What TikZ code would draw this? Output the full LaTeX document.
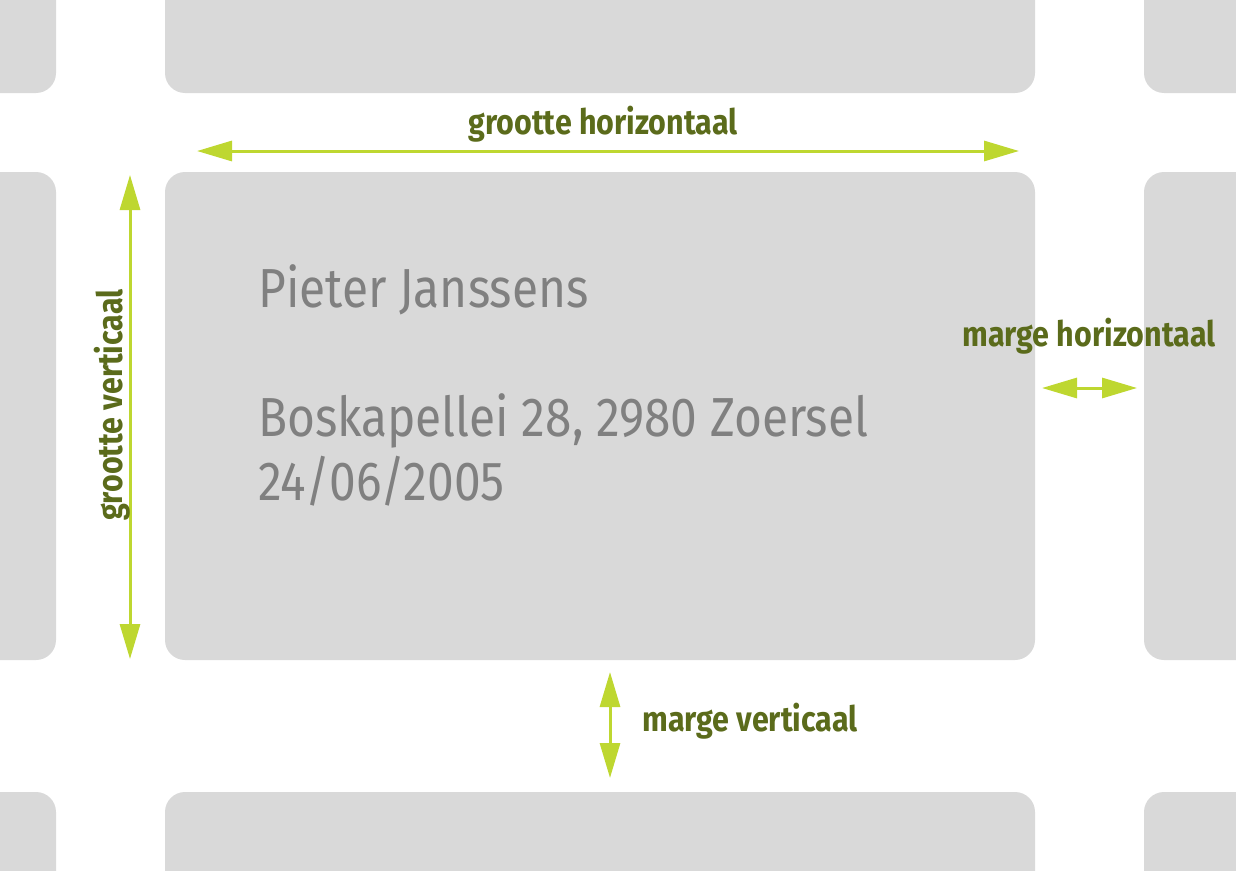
\documentclass[tikz,border=0pt]{standalone}
\usepackage{fontspec}
\setmainfont{Fira Sans}
\newfontfamily\condfont[FakeStretch=0.87]{Fira Sans}
\usetikzlibrary{arrows.meta,positioning}

\definecolor{cardgray}{HTML}{D9D9D9}
\definecolor{textgray}{HTML}{808080}
\definecolor{lime}{HTML}{BED730}
\definecolor{olive}{HTML}{5B6B1B}

\tikzset{
  card/.style={fill=cardgray,rounded corners=20pt,inner sep=0pt},
  addr/.style={anchor=base west,inner sep=0pt,text=textgray,font=\condfont\fontsize{55}{60}\selectfont},
  lbl/.style={text=olive,inner sep=0pt,font=\condfont\bfseries\fontsize{35}{40}\selectfont},
  dim/.style={draw=lime,line width=3pt,{Triangle[length=35pt,width=20pt]}-{Triangle[length=35pt,width=20pt]}},
}

\begin{document}
\begin{tikzpicture} [x=1pt,y=-1pt]

  \useasboundingbox (0,0) rectangle (1236,870);

  % cards
  \foreach \cx/\cw/\col in {-72/256/l, 600/870/m, 1272/256/r}
    \foreach \cy/\ch/\row in {-7/200/t, 416/488/m, 892/200/b}
      \node[card,minimum width=\cw pt,minimum height=\ch pt] (c-\col\row) at (\cx,\cy) {};

  % address
  \node[addr] (name) at (258,307) {Pieter Janssens};
  \node[addr] (street) at (258,436) {Boskapellei 28, 2980 Zoersel};
  \node[addr] (date) at (258,500) {24/06/2005};

  % dimension arrows
  \coordinate (gh-l) at (197,151);
  \coordinate (gh-r) at (1019,151);
  \coordinate (gv-t) at (130,175);
  \coordinate (gv-b) at (130,659);
  \coordinate (mh-l) at (1042,388);
  \coordinate (mh-r) at (1137,388);
  \coordinate (mv-t) at (610,672);
  \coordinate (mv-b) at (610,778);

  \draw[dim] (gh-l) -- (gh-r);
  \draw[dim] (gv-t) -- (gv-b);
  \draw[dim] (mh-l) -- (mh-r);
  \draw[dim] (mv-t) -- (mv-b);

  \node[lbl] (gh) at (603,124) {grootte horizontaal};
  \node[lbl,rotate=90] (gv) at (112,405) {grootte verticaal};
  \node[lbl] (mh) at (1089,336) {marge horizontaal};
  \node[lbl] (mv) at (750,721) {marge verticaal};

\end{tikzpicture}
\end{document}
